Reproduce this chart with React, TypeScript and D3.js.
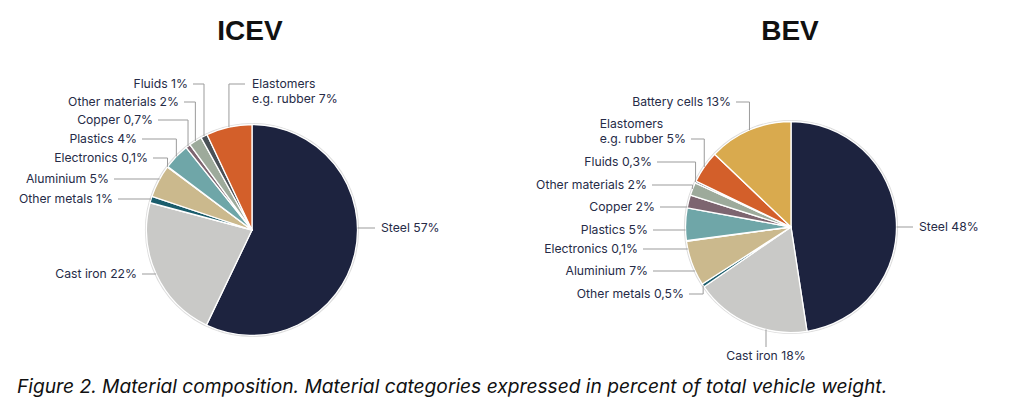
import React, { useEffect, useRef } from "react";
import * as d3 from "d3";

// ---------- data ----------
const icevMaterials = ["Steel", "Cast iron", "Other metals", "Aluminium", "Electronics", "Plastics", "Copper", "Other materials", "Fluids", "Elastomers"];
const icevShares = [57, 22, 1, 5, 0.1, 4, 0.7, 2, 1, 7];
const icevLabels = ["Steel 57%", "Cast iron 22%", "Other metals 1%", "Aluminium 5%", "Electronics 0,1%", "Plastics 4%", "Copper 0,7%", "Other materials 2%", "Fluids 1%", "Elastomers\ne.g. rubber 7%"];

const bevMaterials = ["Steel", "Cast iron", "Other metals", "Aluminium", "Electronics", "Plastics", "Copper", "Other materials", "Fluids", "Elastomers", "Battery cells"];
const bevShares = [48, 18, 0.5, 7, 0.1, 5, 2, 2, 0.3, 5, 13];
const bevLabels = ["Steel 48%", "Cast iron 18%", "Other metals 0,5%", "Aluminium 7%", "Electronics 0,1%", "Plastics 5%", "Copper 2%", "Other materials 2%", "Fluids 0,3%", "Elastomers\ne.g. rubber 5%", "Battery cells 13%"];

const chartTitles = ["ICEV", "BEV"];
const captionText = "Figure 2. Material composition. Material categories expressed in percent of total vehicle weight.";

// ---------- styles / layout ----------
const materialColors: Record<string, string> = {
  "Steel": "#1d233f",
  "Cast iron": "#c9c9c7",
  "Other metals": "#1b5d6c",
  "Aluminium": "#cbb98d",
  "Electronics": "#36993a",
  "Plastics": "#6fa6a8",
  "Copper": "#7d6570",
  "Other materials": "#9daa9b",
  "Fluids": "#4a5157",
  "Elastomers": "#d35f2a",
  "Battery cells": "#d9aa4e",
};

type LabelLayout = { kind: "flat" | "elbow" | "below"; dx: number; dy: number; attach?: number };

const icevLayout: LabelLayout[] = [
  { kind: "flat", dx: 129, dy: -2 },
  { kind: "flat", dx: -115, dy: 44 },
  { kind: "flat", dx: -139, dy: -31 },
  { kind: "flat", dx: -143, dy: -51 },
  { kind: "elbow", dx: -104, dy: -72 },
  { kind: "elbow", dx: -115, dy: -91 },
  { kind: "elbow", dx: -99, dy: -110 },
  { kind: "elbow", dx: -73, dy: -128 },
  { kind: "elbow", dx: -64, dy: -146 },
  { kind: "elbow", dx: 0, dy: -146, attach: 0 },
];

const bevLayout: LabelLayout[] = [
  { kind: "flat", dx: 128, dy: 0 },
  { kind: "below", dx: -25, dy: 129 },
  { kind: "elbow", dx: -107, dy: 67 },
  { kind: "flat", dx: -143, dy: 44 },
  { kind: "flat", dx: -153, dy: 22 },
  { kind: "flat", dx: -143, dy: 3 },
  { kind: "flat", dx: -136, dy: -20 },
  { kind: "elbow", dx: -144, dy: -42 },
  { kind: "elbow", dx: -139, dy: -65 },
  { kind: "elbow", dx: -105, dy: -88, attach: 1 },
  { kind: "elbow", dx: -60, dy: -125 },
];

const W = 1024;
const H = 418;
const R = 105.5;
const LABEL_FONT = "Inter, 'Noto Sans', sans-serif";
const LABEL_SIZE = 12.2;
const LABEL_COLOR = "#262b47";
const LEADER_COLOR = "#9b9b9b";

type PieSpec = {
  title: string;
  cx: number;
  cy: number;
  titleX: number;
  materials: string[];
  shares: number[];
  labels: string[];
  layout: LabelLayout[];
};

const pies: PieSpec[] = [
  { title: chartTitles[0], cx: 252, cy: 230, titleX: 250, materials: icevMaterials, shares: icevShares, labels: icevLabels, layout: icevLayout },
  { title: chartTitles[1], cx: 791, cy: 227, titleX: 790, materials: bevMaterials, shares: bevShares, labels: bevLabels, layout: bevLayout },
];

export default function App() {
  const ref = useRef<SVGSVGElement | null>(null);

  useEffect(() => {
    const svg = d3.select(ref.current);
    svg.selectAll("*").remove();

    pies.forEach((spec) => {
      const g = svg.append("g").attr("transform", `translate(${spec.cx},${spec.cy})`);

      // title
      svg
        .append("text")
        .attr("x", spec.titleX)
        .attr("y", 39.5)
        .attr("text-anchor", "middle")
        .attr("font-family", "'Liberation Sans', Arial, sans-serif")
        .attr("font-weight", "bold")
        .attr("font-size", 28)
        .attr("fill", "#111")
        .text(spec.title);

      const pie = d3.pie<number>().sort(null).value((d) => d)(spec.shares);
      const arc = d3.arc<d3.PieArcDatum<number>>().innerRadius(0).outerRadius(R);

      // soft outer rim
      g.append("circle").attr("r", R + 0.8).attr("fill", "none").attr("stroke", "#dcdcdc").attr("stroke-width", 1.6);

      g.selectAll("path.slice")
        .data(pie)
        .enter()
        .append("path")
        .attr("class", "slice")
        .attr("d", arc as any)
        .attr("fill", (_d, i) => materialColors[spec.materials[i]])
        .attr("stroke", "#ffffff")
        .attr("stroke-width", 1.3)
        .attr("stroke-linejoin", "round");

      // labels
      pie.forEach((d, i) => {
        const lay = spec.layout[i];
        const lines = spec.labels[i].split("\n");
        const attach = lay.attach ?? 0;
        const isRight = lay.dx >= 0 && lay.kind !== "below";
        const isBelow = lay.kind === "below";
        const gap = 5;

        const tg = g.append("g");
        const texts = lines.map((line, li) =>
          tg
            .append("text")
            .attr("x", lay.dx)
            .attr("y", lay.dy + (li - attach) * 15)
            .attr("dy", "0.35em")
            .attr("font-family", LABEL_FONT)
            .attr("font-size", LABEL_SIZE)
            .attr("fill", LABEL_COLOR)
            .attr("text-anchor", isBelow ? "middle" : isRight ? "start" : "end")
            .text(line)
        );

        if (lines.length > 1 && !isRight) {
          const widths = texts.map((t) => (t.node() as SVGTextElement).getComputedTextLength());
          const maxW = Math.max(...widths);
          texts.forEach((t) => t.attr("text-anchor", "start").attr("x", lay.dx - maxW));
        }

        let path = "";
        if (lay.kind === "flat") {
          const px = (isRight ? 1 : -1) * Math.sqrt(Math.max(0, R * R - lay.dy * lay.dy));
          const ex = isRight ? lay.dx - gap - 1 : lay.dx + gap;
          path = `M${px},${lay.dy}H${ex}`;
        } else if (lay.kind === "elbow") {
          const a = (d.startAngle + d.endAngle) / 2;
          const px = R * Math.sin(a);
          const py = -R * Math.cos(a);
          const ex = isRight ? lay.dx - gap - 2 : lay.dx + gap;
          path = `M${px},${py}V${lay.dy}H${ex}`;
        } else {
          const py = Math.sqrt(Math.max(0, R * R - lay.dx * lay.dx));
          path = `M${lay.dx},${py}V${lay.dy - 9}`;
        }
        g.append("path").attr("d", path).attr("fill", "none").attr("stroke", LEADER_COLOR).attr("stroke-width", 1);
      });
    });

    svg
      .append("text")
      .attr("x", 17)
      .attr("y", 393)
      .attr("font-family", "Inter, 'Liberation Sans', sans-serif")
      .attr("font-style", "italic")
      .attr("font-size", 19.2)
      .attr("fill", "#111")
      .text(captionText);
  }, []);

  return (
    <svg
      ref={ref}
      width={W}
      height={H}
      viewBox={`0 0 ${W} ${H}`}
      style={{ position: "absolute", left: 0, top: 0, background: "#fff", display: "block" }}
    />
  );
}
